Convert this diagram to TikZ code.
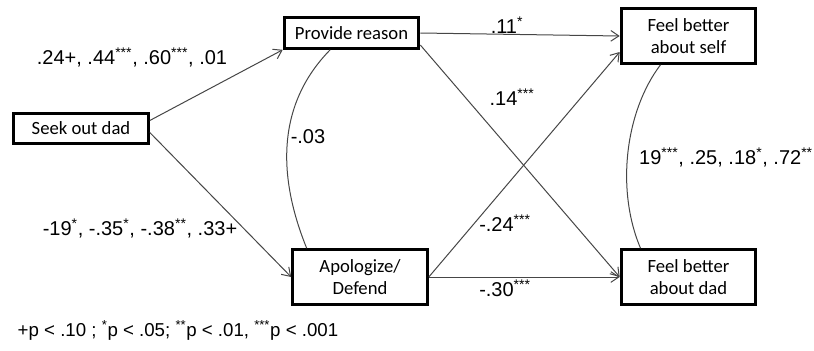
\documentclass[tikz,border=0pt]{standalone}
\usepackage{fontspec}
\setmainfont{Liberation Sans}
\newfontfamily\boxfont{Carlito}
\usetikzlibrary{arrows.meta, calc}
\definecolor{cline}{RGB}{70,70,70}
\newcommand{\sig}[1]{\textsuperscript{#1}}

\begin{document}
\begin{tikzpicture}[
    x=0.75pt, y=-0.75pt,
    every node/.style={font=\fontsize{15}{18}\selectfont},
    varbox/.style={draw, line width=2.2pt, inner sep=0pt, align=center,
        minimum width=101pt, minimum height=23pt,
        font=\boxfont\fontsize{14}{17}\selectfont},
    tall/.style={minimum height=41pt},
    link/.style={cline, line width=0.75pt, -{Straight Barb[length=6pt,width=8pt]}},
    tie/.style={cline, line width=0.75pt},
]
    \useasboundingbox (0,0) rectangle (814,350);

    % Boxes
    \node[varbox] (sd) at (81,128.5) {Seek out dad};
    \node[varbox] (pr) at (351.5,33) {Provide reason};
    \node[varbox, tall] (ap) at (360,277) {Apologize/\\Defend};
    \node[varbox, tall] (fs) at (688.5,36) {Feel better\\about self};
    \node[varbox, tall] (fd) at (688.5,277) {Feel better\\about dad};

    % Paths
    \draw[link] ([yshift=6pt]sd.east) -- (pr.south west);
    \draw[link] ([yshift=-3pt]sd.east) -- (ap.west);
    \draw[link] (pr.east) -- (fs.west);
    \draw[link] ([yshift=-9pt]pr.east) -- (fd.west);
    \draw[link] (ap.east) -- ([yshift=-12pt]fs.west);
    \draw[link] (ap.east) -- (fd.west);

    % Correlations
    \draw[tie] ([xshift=-16pt]pr.south) .. controls +(-50,51) and +(-32,-79) .. ([xshift=-40pt]ap.north);
    \draw[tie] ([xshift=-21pt]fs.south) .. controls +(-35,46) and +(-25,-59) .. ([xshift=-36pt]fd.north);

    % Coefficients
    \node (lsp) at (132,57) {.24+, .44\sig{***}, .60\sig{***}, .01};
    \node (lsa) at (140,228) {-19\sig{*}, -.35\sig{*}, -.38\sig{**}, .33+};
    \node (lra) at (308,137) {-.03};
    \node (lrs) at (507,25) {.11\sig{*}};
    \node (lrd) at (512,97) {.14\sig{***}};
    \node (las) at (505,223) {-.24\sig{***}};
    \node (lad) at (505,288) {-.30\sig{***}};
    \node (lsd) at (726,157) {19\sig{***}, .25, .18\sig{*}, .72\sig{**}};

    % Note
    \node[font=\fontsize{14}{16}\selectfont, anchor=west] (note) at (13,330)
        {+p < .10 ; \sig{*}p < .05; \sig{**}p < .01, \sig{***}p < .001};
\end{tikzpicture}
\end{document}
